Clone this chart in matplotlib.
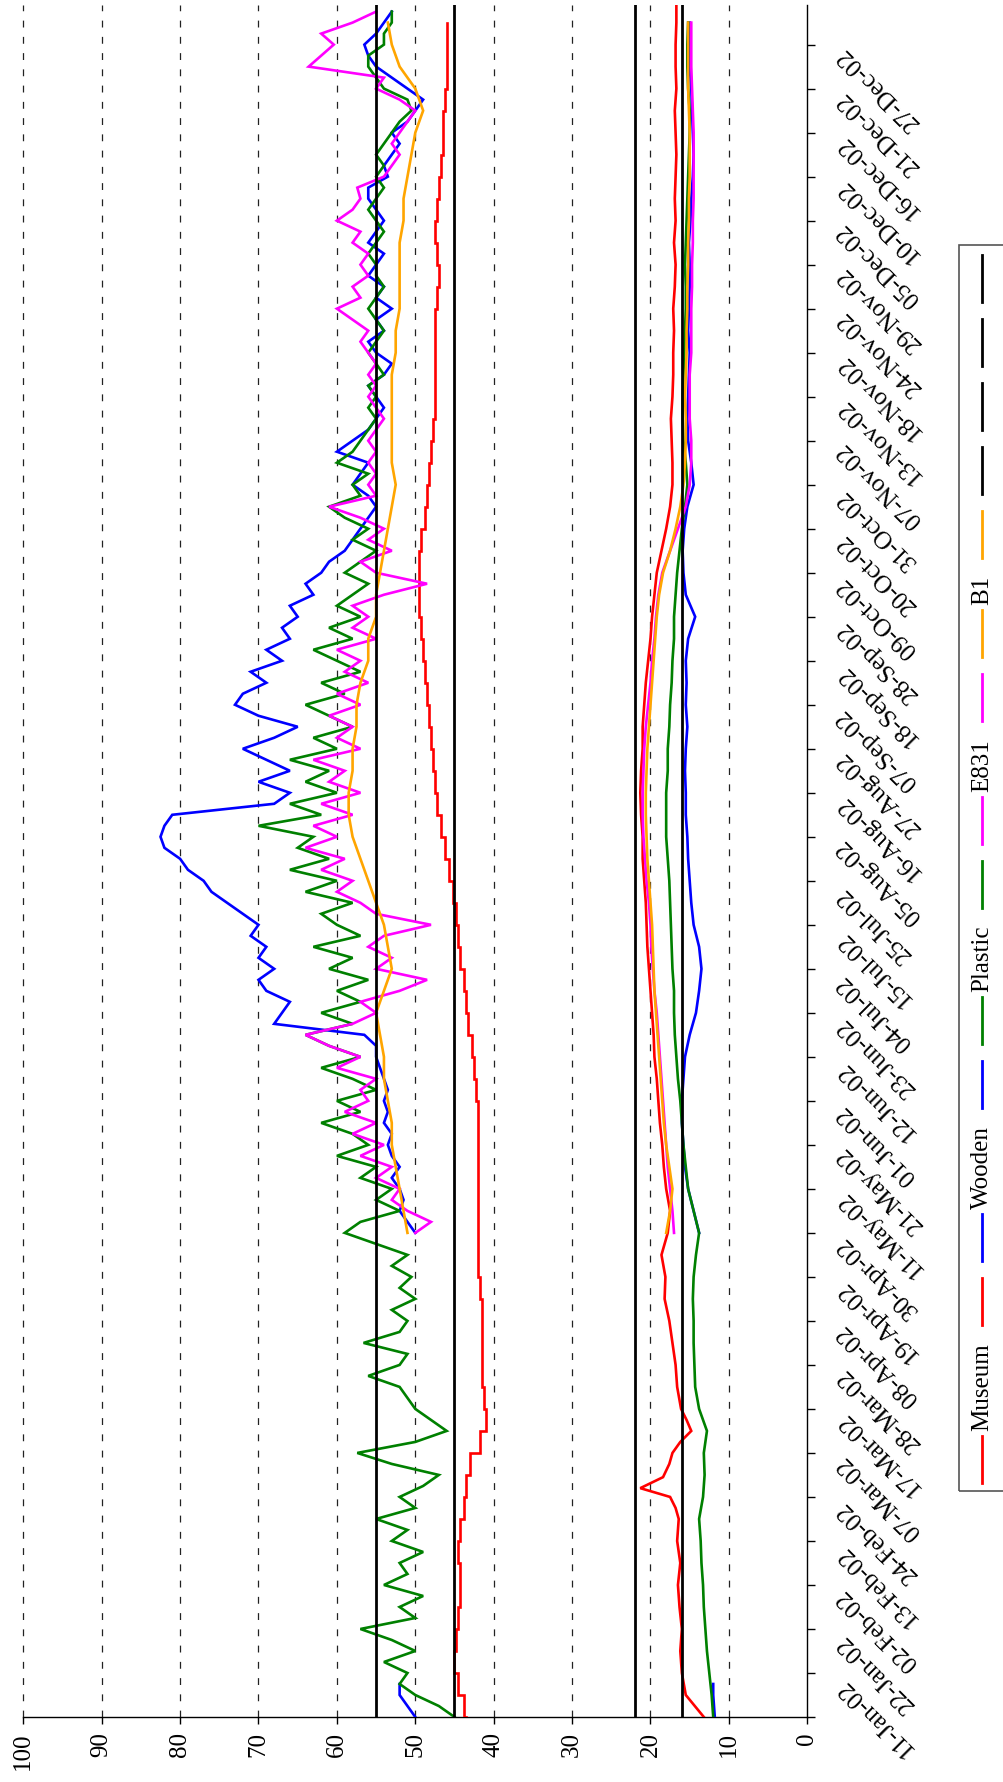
import numpy as np
import matplotlib
matplotlib.use("Agg")
import matplotlib.pyplot as plt
from matplotlib.lines import Line2D
from matplotlib.patches import Rectangle

plt.rcParams['font.family'] = ['Liberation Serif', 'DejaVu Serif']

# ---------------------------------------------------------------- data
# category axis labels (one every tick, bottom to top)
date_labels = ["11-Jan-02", "22-Jan-02", "02-Feb-02", "13-Feb-02", "24-Feb-02",
               "07-Mar-02", "17-Mar-02", "28-Mar-02", "08-Apr-02", "19-Apr-02",
               "30-Apr-02", "11-May-02", "21-May-02", "01-Jun-02", "12-Jun-02",
               "23-Jun-02", "04-Jul-02", "15-Jul-02", "25-Jul-02", "05-Aug-02",
               "16-Aug-02", "27-Aug-02", "07-Sep-02", "18-Sep-02", "28-Sep-02",
               "09-Oct-02", "20-Oct-02", "31-Oct-02", "07-Nov-02", "13-Nov-02",
               "18-Nov-02", "24-Nov-02", "29-Nov-02", "05-Dec-02", "10-Dec-02",
               "16-Dec-02", "21-Dec-02", "27-Dec-02", ""]

# relative humidity (%)
museum_rh = [43.5, 44, 45, 45, 44.5, 44.5, 44, 44.5, 44.5, 44, 43.5, 43.5, 42.5, 41,
             41, 41.5, 41.5, 41.5, 41.5, 41.5, 42, 42, 42, 42, 42, 42, 42, 42, 42,
             42.5, 42.5, 43, 43.5, 43.5, 44, 44.5, 44.5, 45, 45.5, 46, 46.5, 47,
             47.5, 47.5, 48, 48, 48.5, 48.5, 49, 49, 49.5, 49.5, 49.5, 49.5, 49,
             48.5, 48.5, 48, 48, 47.5, 47.5, 47.5, 47.5, 47.5, 47.5, 47, 47, 47.5,
             47.5, 47, 47, 46.5, 46.5, 46.5, 46, 46, 46, 46]
plastic_rh = [45, 47, 50, 52, 51, 54, 50, 53, 57, 50, 52, 49, 54, 51, 52, 49,
              53, 51, 55, 50, 52, 49, 47, 53, 57.4, 50, 46, 48, 50, 51, 52, 56,
              52, 51, 56.6, 52, 51, 53, 50, 52, 50.5, 53, 51, 55, 59, 57, 52, 55,
              53, 57, 55, 60, 56, 58, 62, 57, 60, 55, 58, 62, 57, 61, 64, 58,
              62, 57, 60, 56, 61, 58, 63, 57, 60, 62, 58, 64, 60, 66, 61, 65,
              63, 70, 62, 66, 60, 64, 61, 66, 60, 63, 58, 61, 64, 59, 62, 57,
              60, 63, 58, 61, 57, 60, 58, 56, 59, 57, 55, 58, 56, 59, 61, 57,
              58, 56, 60, 58, 57, 56, 55, 56, 55, 56, 54, 55, 56, 55, 54, 55,
              56, 55, 54, 55, 55, 56, 55, 54, 55, 56, 55, 54, 55, 54, 55, 54,
              53, 52, 50.5, 51, 54, 55, 56, 56, 54, 54, 53, 53]
wooden_rh_early = [50, 51, 52, 52]
wooden_rh = [50, 51, 52, 51.5, 52, 53, 52, 53, 53.5, 53, 54, 53.5, 54, 53.5, 54,
             54.5, 55, 55, 56.5, 68, 67, 66, 69, 70, 68, 70, 69, 71, 70, 72, 74,
             76, 77, 79, 80, 82, 82.5, 82, 81, 68, 66, 70, 66, 69, 72, 68, 65, 70,
             73, 72, 69, 71, 67, 69, 66, 67, 65, 66, 63, 64, 62, 61, 59, 58, 57,
             56, 55, 56, 58, 57, 56, 60, 58, 56, 55, 54, 55, 56, 54, 53, 55, 56,
             54, 55, 53, 55, 54, 56, 55, 54, 56, 55, 54, 55, 56, 56, 53.5, 54, 53,
             52, 53, 51, 50, 49, 51, 53, 55, 56, 56.5, 55, 54, 53]
e831_rh = [50, 48, 51, 53, 52, 55, 53, 57, 54, 58, 55, 59, 56, 57, 55, 60, 57, 61,
           64, 58, 55, 57, 52, 48.5, 55, 53, 56, 54, 48, 55, 57, 60, 58, 62, 59,
           64, 60, 63, 58, 62, 57, 61, 59, 63, 57, 60, 58, 61, 57, 60, 56, 59, 57,
           60, 55, 58, 56, 58, 54, 48.5, 55, 57, 53, 56, 54, 57, 61, 55, 56, 55,
           56, 55, 56, 55, 54, 55, 56, 55, 56, 55, 56, 57, 56, 58, 60, 57, 58, 56,
           57, 56, 58, 57, 60, 58, 57, 57.4, 54, 53, 52, 53, 52, 51, 50, 52, 55,
           54, 63.6, 62, 60.4, 62, 58, 55]
b1_rh = [51, 51.5, 52, 52.5, 53, 53, 53.5, 54, 54, 54.5, 55, 54, 53, 53.5, 54, 55,
         56, 57, 58, 58.5, 58.5, 58, 58, 57.5, 57.5, 57, 56, 56, 55, 55, 54.5, 54,
         53.5, 53, 52.5, 53, 53, 53, 53, 53, 52.5, 52.5, 52, 52, 52, 52, 51.5, 51.5,
         51, 50.5, 50, 49, 50, 52, 53, 53.5]

# temperature (deg C)
museum_t_at = np.r_[np.arange(0, 4.75, 0.5),
                    [4.75, 5.0, 5.2, 5.45, 5.75, 6.0, 6.25, 6.5, 6.75],
                    np.arange(7, 38.6, 0.5), [38.9]]
museum_t = [13.2, 15.5, 16, 16.2, 16, 16.3, 16.5, 16.2, 16.6, 16.4,
            16.8, 17.5, 21.3, 18.4, 17.6, 17.2, 16.2, 14.8, 15.4,
            16.1, 16.6, 16.8, 17.2, 17.6, 18.2, 18.1, 18.6, 17.8, 17.5, 18, 18.3,
            18.5, 18.8, 19, 19.2, 19.5, 19.6, 19.8, 20, 20.2, 20.4, 20.5, 20.6, 20.8,
            21, 21, 21.2, 21.3, 21.2, 21, 21, 20.8, 20.6, 20.3, 20, 19.8, 19.5, 19.2,
            18.6, 18, 17.5, 17.2, 17.2, 17.3, 17.4, 17.2, 17.1, 17.1, 17, 17.1, 16.9,
            16.8, 17, 16.8, 16.9, 16.8, 16.7, 16.8, 16.9, 16.7, 16.8, 16.8, 16.7,
            16.7]
plastic_t = [12, 12.2, 12.5, 12.8, 13, 13.2, 13.3, 13.5, 13.6, 13.8, 13.3, 13.1, 13.2,
             12.8, 13.8, 14.3, 14.4, 14.5, 14.5, 14.6, 14.5, 14.2, 13.8, 14.5, 15.2,
             15.5, 15.8, 16, 16.2, 16.5, 16.7, 16.9, 17, 17, 17.2, 17.3, 17.4, 17.5,
             17.6, 17.8, 18, 18, 18, 17.8, 17.8, 17.6, 17.5, 17.3, 17.2, 17, 17, 16.8,
             16.6, 16.3, 16, 15.6, 15.3, 15.5, 15.8, 15.9, 15.9, 15.8, 15.7, 15.6,
             15.5, 15.5, 15.6, 15.5, 15.4, 15.3, 15.2, 15.1, 15, 15, 15.2, 15.3, 15.3,
             15.2]
wooden_t_early = [11.8, 11.9, 12, 12]
wooden_t = [13.8, 14.5, 15.2, 15.6, 15.8, 16, 16, 15.8, 15.6, 15, 14.2, 13.8, 13.5,
            13.8, 14.5, 14.8, 15, 15.2, 15.3, 15.5, 15.5, 15.6, 15.5, 15.3, 15.5,
            15.4, 15.5, 15.2, 14.3, 15.5, 15.8, 15.9, 15.7, 15.3, 14.5, 14.8, 15.2,
            15.3, 15.2, 15.1, 15, 15.2, 15.1, 15, 15, 15.1, 14.9, 14.8, 14.6, 14.5,
            14.6, 14.7, 14.8, 15, 15, 15]
e831_t = [17, 17.2, 17.5, 17.8, 18, 18.2, 18.4, 18.6, 18.8, 19, 19.2, 19.5, 19.7,
          19.9, 20, 20.2, 20.5, 20.7, 20.9, 21, 21, 20.9, 20.8, 20.6, 20.3, 20, 19.8,
          19.5, 19.3, 19, 18.5, 17.5, 16.5, 15.5, 15, 14.8, 14.8, 15, 15, 15, 14.8,
          14.8, 14.8, 14.7, 14.7, 14.6, 14.6, 14.5, 14.5, 14.5, 14.5, 14.6, 14.7,
          14.8, 14.8, 14.8]
b1_t = [18, 17.5, 17.2, 17.6, 18, 18.3, 18.5, 18.7, 18.9, 19.1, 19.3, 19.5, 19.6,
        19.7, 19.8, 20, 20.2, 20.4, 20.5, 20.6, 20.6, 20.5, 20.4, 20.2, 20, 19.8,
        19.6, 19.4, 19.2, 18.9, 18.4, 17.5, 16.8, 16.2, 15.8, 15.6, 15.5, 15.5, 15.6,
        15.5, 15.4, 15.4, 15.3, 15.3, 15.2, 15.2, 15.1, 15.1, 15, 15, 15, 15.1, 15.2,
        15.2, 15.2, 15.2]

# target limits: RH 45-55 %, temperature 16-22 deg C
limits = [55, 45, 22, 16]

names = ["Museum", "Wooden", "Plastic", "E831", "B1"]
colors = ["#ff0000", "#0000ff", "#008000", "#ff00ff", "#ffa500"]


def positions(values, start, step):
    return start + np.arange(len(values)) * step


# (values, category positions, colour index, drawstyle)
series = [
    (museum_rh, positions(museum_rh, 0, 0.5), 0, "steps-mid"),
    (museum_t, museum_t_at, 0, "default"),
    (wooden_rh_early, positions(wooden_rh_early, 0, 0.25), 1, "default"),
    (wooden_rh, positions(wooden_rh, 11, 0.25), 1, "default"),
    (wooden_t_early, positions(wooden_t_early, 0, 0.25), 1, "default"),
    (wooden_t, positions(wooden_t, 11, 0.5), 1, "default"),
    (plastic_rh, positions(plastic_rh, 0, 0.25), 2, "default"),
    (plastic_t, positions(plastic_t, 0, 0.5), 2, "default"),
    (e831_rh, positions(e831_rh, 11, 0.25), 3, "default"),
    (e831_t, positions(e831_t, 11, 0.5), 3, "default"),
    (b1_rh, positions(b1_rh, 11, 0.5), 4, "default"),
    (b1_t, positions(b1_t, 11, 0.5), 4, "default"),
]

# ---------------------------------------------------------------- figure
W, H = 1004, 1782
fig = plt.figure(figsize=(W / 100, H / 100), dpi=100)
ax_left, ax_right, ax_top, ax_bottom = 23.3, 807.3, 5, 1717
ax = fig.add_axes([ax_left / W, 1 - ax_bottom / H,
                   (ax_right - ax_left) / W, (ax_bottom - ax_top) / H])

FS = 18
ymax = 38.9

for vals, pos, ci, ds in series:
    ax.plot(vals, pos, color=colors[ci], lw=1.9, drawstyle=ds,
            solid_joinstyle='miter', zorder=3)
for v in limits:
    ax.plot([v, v], [0, ymax], color="black", lw=2.0, zorder=4)

ax.set_xlim(100, 0)
ax.set_ylim(0, ymax)

# value axis (bottom)
ax.set_xticks(np.arange(0, 101, 10))
ax.set_xticklabels([str(v) for v in range(0, 101, 10)], rotation=90,
                   fontsize=FS, va="top", ha="center")
ax.tick_params(axis="x", direction="out", length=5, width=1, pad=6)
for v in range(10, 101, 10):
    ax.axvline(v, color="#222222", lw=0.9, ls=(0, (5.5, 7.5)), zorder=1,
               clip_on=False)

# category axis (right)
ax.yaxis.tick_right()
ax.set_yticks(np.arange(len(date_labels)))
ax.set_yticklabels(date_labels, rotation=135, fontsize=FS, va="center",
                   ha="left", rotation_mode="default")
ax.tick_params(axis="y", direction="out", length=6, width=1, pad=12)

for side in ("left", "top"):
    ax.spines[side].set_visible(False)
for side in ("right", "bottom"):
    ax.spines[side].set_linewidth(1.0)
    ax.spines[side].set_color("black")

# ---------------------------------------------------------------- legend
entries = []
for name, col in zip(names, colors):
    entries.append((name, col))
    entries.append(("", col))
entries += [("", "black")] * len(limits)

fig.canvas.draw()
renderer = fig.canvas.get_renderer()
lx = 982
cursor = H - 1483
start_cursor = cursor
hlen, gap_text, gap_after, gap_empty = 47, 5, 18, 17
for name, col in entries:
    fig.add_artist(Line2D([lx / W, lx / W], [cursor / H, (cursor + hlen) / H],
                          color=col, lw=2.0, transform=fig.transFigure))
    cursor += hlen
    if name:
        t = fig.text(lx / W, (cursor + gap_text) / H, name, rotation=90,
                     ha="center", va="bottom", fontsize=FS)
        bb = t.get_window_extent(renderer)
        cursor = bb.y1 + gap_after
    else:
        cursor += gap_empty
top = cursor - gap_empty + 10
bot = start_cursor - 8
fig.add_artist(Rectangle((959 / W, bot / H), (W + 20 - 959) / W, (top - bot) / H,
                         transform=fig.transFigure, fill=False,
                         edgecolor="#555555", lw=1.2, clip_on=False))

fig.savefig("out.png", dpi=100, facecolor="white")
